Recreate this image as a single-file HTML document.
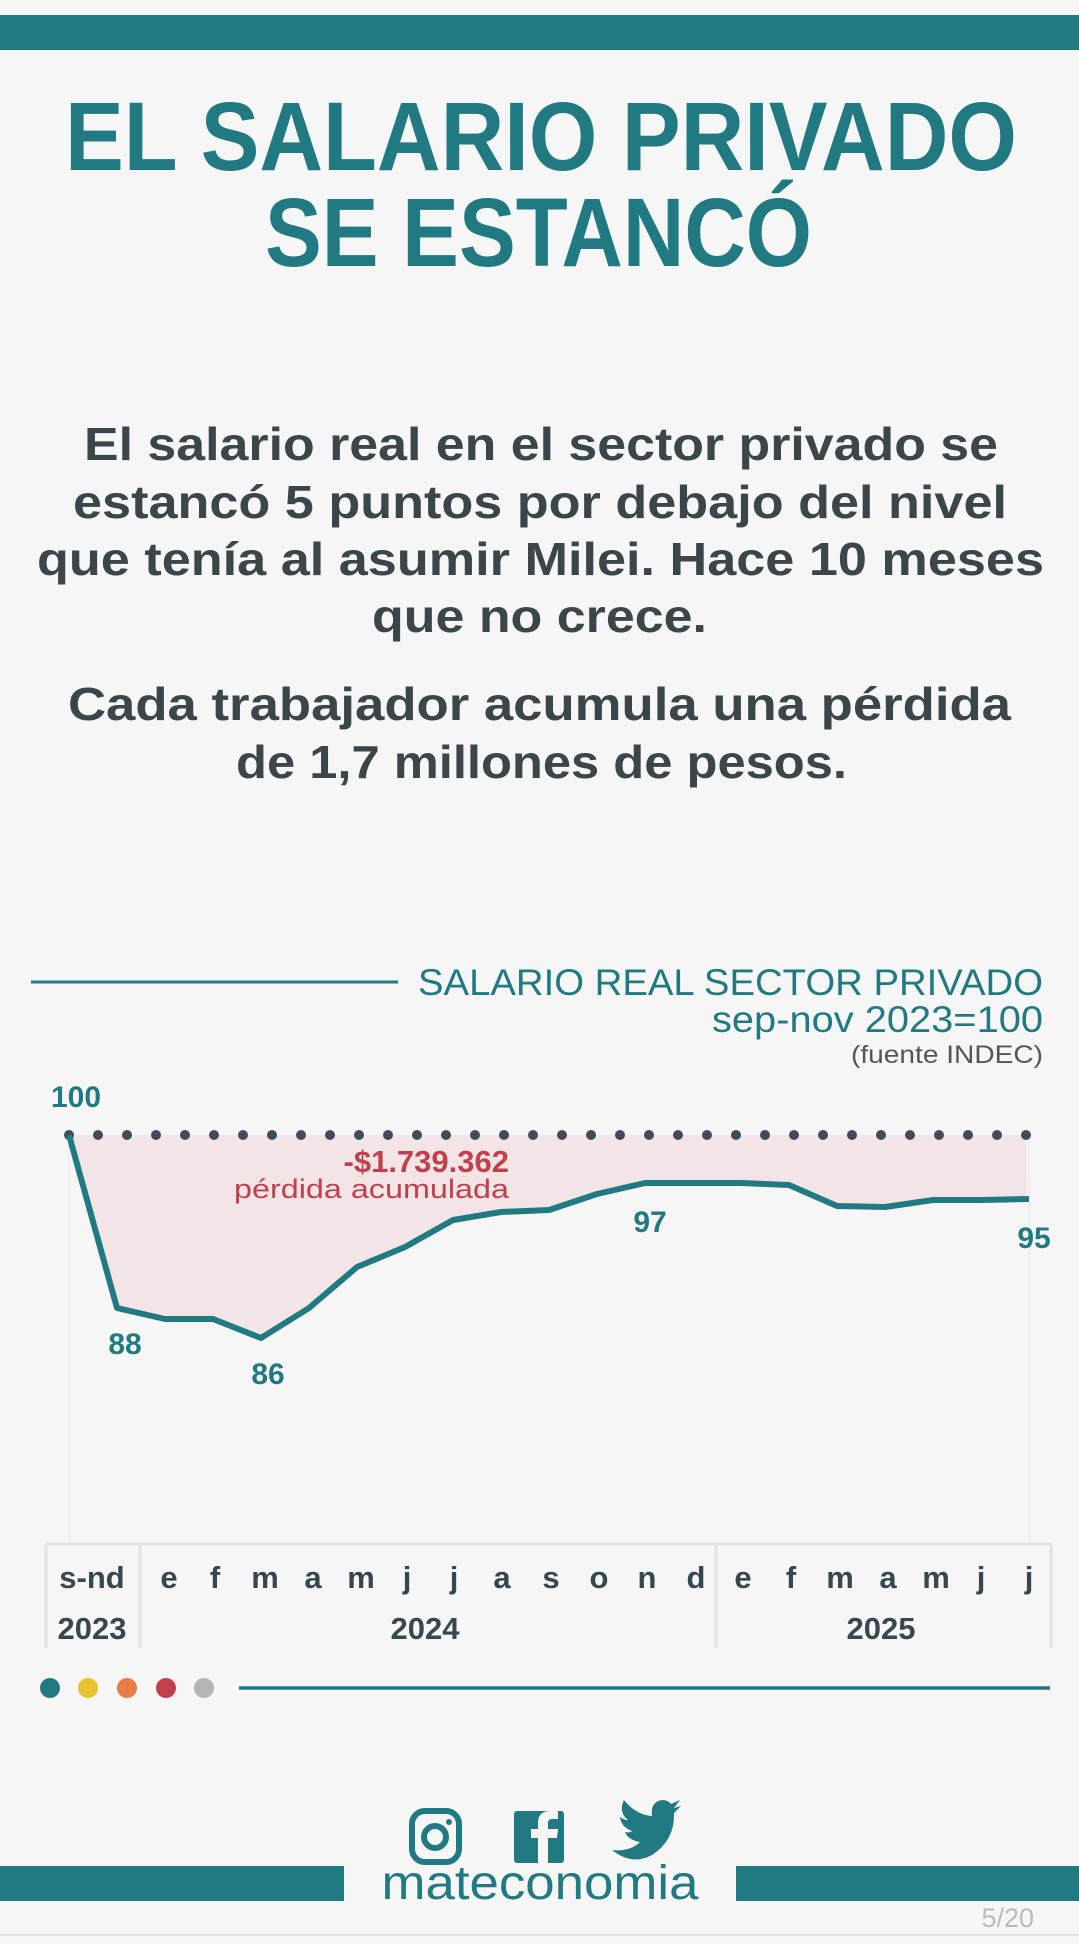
<!DOCTYPE html>
<html><head><meta charset="utf-8"><style>
html,body{margin:0;padding:0;background:#f6f6f6;}
svg{display:block;}
</style></head><body>
<svg width="1079" height="1944" viewBox="0 0 1079 1944" xmlns="http://www.w3.org/2000/svg" font-family="Liberation Sans, sans-serif">
<rect width="1079" height="1944" fill="#f6f6f6"/>
<rect x="0" y="15" width="1079" height="35" fill="#217a82"/>
<g fill="#217a82" font-weight="900" font-size="97">
<text x="65" y="170" textLength="952" lengthAdjust="spacingAndGlyphs">EL SALARIO PRIVADO</text>
<text x="265" y="266" textLength="547" lengthAdjust="spacingAndGlyphs">SE ESTANCÓ</text>
</g>
<g fill="#3b464b" font-weight="bold" font-size="46">
<text x="84" y="460" textLength="914" lengthAdjust="spacingAndGlyphs">El salario real en el sector privado se</text>
<text x="73" y="518" textLength="934" lengthAdjust="spacingAndGlyphs">estancó 5 puntos por debajo del nivel</text>
<text x="37" y="575" textLength="1007" lengthAdjust="spacingAndGlyphs">que tenía al asumir Milei. Hace 10 meses</text>
<text x="372" y="632" textLength="335" lengthAdjust="spacingAndGlyphs">que no crece.</text>
<text x="68" y="720" textLength="943" lengthAdjust="spacingAndGlyphs">Cada trabajador acumula una pérdida</text>
<text x="236" y="778" textLength="611" lengthAdjust="spacingAndGlyphs">de 1,7 millones de pesos.</text>
</g>
<line x1="31" y1="982" x2="398" y2="982" stroke="#217a82" stroke-width="3"/>
<g fill="#217a82">
<text x="418" y="995" font-size="37" textLength="625" lengthAdjust="spacingAndGlyphs">SALARIO REAL SECTOR PRIVADO</text>
<text x="712" y="1032" font-size="37" textLength="331" lengthAdjust="spacingAndGlyphs">sep-nov 2023=100</text>
</g>
<text x="851" y="1063" font-size="25" fill="#555" textLength="192" lengthAdjust="spacingAndGlyphs">(fuente INDEC)</text>
<line x1="69" y1="1135" x2="69" y2="1540" stroke="#eeeeee" stroke-width="2"/>
<line x1="1029" y1="1135" x2="1029" y2="1540" stroke="#eeeeee" stroke-width="2"/>
<polygon fill="#f3e5e5" points="69,1135 117,1308 165,1319 213,1319 261,1338 309,1308 357,1267 405,1247 453,1220 501,1212 549,1210 597,1194 645,1183 693,1183 741,1183 789,1185 837,1206 885,1207 933,1200 981,1200 1027,1199 1026,1135"/>
<g fill="#3f4a5a">
<circle cx="69" cy="1135" r="5"/><circle cx="98" cy="1135" r="5"/><circle cx="127" cy="1135" r="5"/><circle cx="156" cy="1135" r="5"/><circle cx="185" cy="1135" r="5"/><circle cx="214" cy="1135" r="5"/><circle cx="243" cy="1135" r="5"/><circle cx="272" cy="1135" r="5"/><circle cx="301" cy="1135" r="5"/><circle cx="330" cy="1135" r="5"/><circle cx="359" cy="1135" r="5"/><circle cx="388" cy="1135" r="5"/><circle cx="417" cy="1135" r="5"/><circle cx="446" cy="1135" r="5"/><circle cx="475" cy="1135" r="5"/><circle cx="504" cy="1135" r="5"/><circle cx="533" cy="1135" r="5"/><circle cx="562" cy="1135" r="5"/><circle cx="591" cy="1135" r="5"/><circle cx="620" cy="1135" r="5"/><circle cx="649" cy="1135" r="5"/><circle cx="678" cy="1135" r="5"/><circle cx="707" cy="1135" r="5"/><circle cx="736" cy="1135" r="5"/><circle cx="765" cy="1135" r="5"/><circle cx="794" cy="1135" r="5"/><circle cx="823" cy="1135" r="5"/><circle cx="852" cy="1135" r="5"/><circle cx="881" cy="1135" r="5"/><circle cx="910" cy="1135" r="5"/><circle cx="939" cy="1135" r="5"/><circle cx="968" cy="1135" r="5"/><circle cx="997" cy="1135" r="5"/><circle cx="1026" cy="1135" r="5"/>
</g>
<polyline fill="none" stroke="#217a82" stroke-width="6" stroke-linejoin="round" points="69,1135 117,1308 165,1319 213,1319 261,1338 309,1308 357,1267 405,1247 453,1220 501,1212 549,1210 597,1194 645,1183 693,1183 741,1183 789,1185 837,1206 885,1207 933,1200 981,1200 1029,1199"/>
<g fill="#217a82" font-weight="900" font-size="30" text-anchor="middle">
<text x="76" y="1107">100</text>
<text x="125" y="1354">88</text>
<text x="268" y="1384">86</text>
<text x="650" y="1232">97</text>
<text x="1034" y="1248">95</text>
</g>
<text x="509" y="1172" fill="#c0404d" font-weight="900" font-size="31" text-anchor="end">-$1.739.362</text>
<text x="234" y="1198" fill="#c0404d" font-size="27" textLength="275" lengthAdjust="spacingAndGlyphs">pérdida acumulada</text>
<g stroke="#e2e2e2" stroke-width="3">
<line x1="45" y1="1544" x2="1052" y2="1544"/>
<line x1="46" y1="1544" x2="46" y2="1648"/>
<line x1="140" y1="1544" x2="140" y2="1648"/>
<line x1="716" y1="1544" x2="716" y2="1648"/>
<line x1="1051" y1="1544" x2="1051" y2="1648"/>
</g>
<g fill="#37474f" font-weight="bold" font-size="31" text-anchor="middle">
<text x="92" y="1588">s-nd</text>
<text x="169" y="1588">e</text><text x="215" y="1588">f</text><text x="265" y="1588">m</text><text x="313" y="1588">a</text><text x="361" y="1588">m</text><text x="407" y="1588">j</text><text x="454" y="1588">j</text><text x="502" y="1588">a</text><text x="551" y="1588">s</text><text x="599" y="1588">o</text><text x="647" y="1588">n</text><text x="696" y="1588">d</text>
<text x="743" y="1588">e</text><text x="791" y="1588">f</text><text x="840" y="1588">m</text><text x="888" y="1588">a</text><text x="936" y="1588">m</text><text x="981" y="1588">j</text><text x="1029" y="1588">j</text>
<text x="92" y="1639">2023</text>
<text x="425" y="1639">2024</text>
<text x="881" y="1639">2025</text>
</g>
<circle cx="50" cy="1688" r="10" fill="#217a82"/>
<circle cx="88" cy="1688" r="10" fill="#e8c22e"/>
<circle cx="127" cy="1688" r="10" fill="#e87c45"/>
<circle cx="166" cy="1688" r="10" fill="#c0404d"/>
<circle cx="204" cy="1688" r="10" fill="#b5b5b5"/>
<line x1="239" y1="1688" x2="1050" y2="1688" stroke="#217a82" stroke-width="3.5"/>
<rect x="0" y="1866" width="344" height="35" fill="#217a82"/>
<rect x="736" y="1866" width="343" height="35" fill="#217a82"/>
<rect x="412" y="1811" width="47" height="51" rx="13" fill="none" stroke="#217a82" stroke-width="6"/>
<circle cx="435" cy="1837" r="11" fill="none" stroke="#217a82" stroke-width="6"/>
<circle cx="449" cy="1822" r="3" fill="#217a82"/>
<rect x="514" y="1811" width="50" height="52" rx="3" fill="#217a82"/>
<path d="M548 1863 V1838 H557 L558 1829 H548 V1823 Q548 1819 552 1819 H558 V1811 H550 Q538 1811 538 1823 V1829 H531 V1838 H538 V1863 Z" fill="#f6f6f6"/>
<path d="M612 1850 Q630 1852 640 1842 Q628 1840 625 1832 Q630 1833 632 1831 Q621 1827 620 1817 Q624 1820 628 1820 Q618 1812 624 1800 Q636 1815 652 1816 Q650 1802 662 1800 Q668 1800 671 1804 L680 1800 L674 1808 L681 1806 L674 1813 Q675 1840 652 1855 Q632 1866 612 1850 Z" fill="#217a82"/>
<text x="540" y="1899" fill="#217a82" font-size="48" text-anchor="middle" textLength="317" lengthAdjust="spacingAndGlyphs">mateconomia</text>
<text x="1034" y="1927" fill="#bbbbbb" font-size="27" text-anchor="end">5/20</text>
<line x1="0" y1="1935" x2="1079" y2="1935" stroke="#e2e2e2" stroke-width="2"/>
</svg>
</body></html>
